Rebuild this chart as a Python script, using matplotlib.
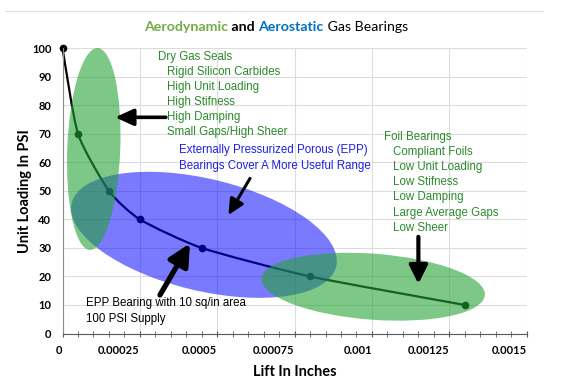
import matplotlib
matplotlib.use("Agg")
import matplotlib.pyplot as plt
from matplotlib.patches import Ellipse, PathPatch
from matplotlib.path import Path
from matplotlib.lines import Line2D
from matplotlib.transforms import ScaledTranslation

# data
lift = [0, 0.00005, 0.00015, 0.00025, 0.00045, 0.0008, 0.0013]
load = [100, 70, 50, 40, 30, 20, 10]
xtick_vals = [0, 0.00025, 0.0005, 0.00075, 0.001, 0.00125, 0.0015]
xtick_labels = ['0', '0.00025', '0.0005', '0.00075', '0.001', '0.00125', '0.0015']
ytick_vals = [0, 10, 20, 30, 40, 50, 60, 70, 80, 90, 100]

seal_lines = ['Dry Gas Seals', 'Rigid Silicon Carbides', 'High Unit Loading',
              'High Stifness', 'High Damping', 'Small Gaps/High Sheer']
foil_lines = ['Foil Bearings', 'Compliant Foils', 'Low Unit Loading', 'Low Stifness',
              'Low Damping', 'Large Average Gaps', 'Low Sheer']
epp_lines = ['Externally Pressurized Porous (EPP)', 'Bearings Cover A More Useful Range']
supply_lines = ['EPP Bearing with 10 sq/in area', '100 PSI Supply']

GREEN_TXT = '#2b8a2b'
BLUE_TXT = '#1f1fe6'
ELL_GREEN = '#26a337'
ELL_BLUE = '#0000ff'

fig = plt.figure(figsize=(5.62, 3.9), dpi=100)
ax = fig.add_axes([62.5 / 562, 1 - 333.5 / 390, 464.2 / 562, 285.2 / 390])
ax.set_xlim(0, 0.0015)
ax.set_ylim(0, 100)

# grid
ax.set_xticks(xtick_vals)
ax.set_xticklabels(xtick_labels)
ax.set_xticks([i * 0.00005 for i in range(31)], minor=True)
ax.set_yticks(ytick_vals)
ax.grid(True, which='major', color='#dcdcdc', lw=0.8)
ax.set_axisbelow(True)
for s in ['top', 'right']:
    ax.spines[s].set_visible(False)
ax.spines['left'].set_color('#8c8c8c')
ax.spines['bottom'].set_color('#595959')
ax.tick_params(axis='y', length=0, pad=8)
ax.tick_params(axis='x', which='both', direction='inout', length=5, color='#595959', pad=6)
for lab in ax.get_xticklabels() + ax.get_yticklabels():
    lab.set_fontfamily('Lato')
    lab.set_fontweight('bold')
    lab.set_fontsize(8)
for lab in ax.get_xticklabels():
    lab.set_ha('right')

ax.set_xlabel('Lift In Inches', fontfamily='Lato', fontweight='bold', fontsize=10.5, labelpad=6)
ax.set_ylabel('Unit Loading In PSI', fontfamily='Lato', fontweight='bold', fontsize=10.5, labelpad=0)


# lightly smoothed line through the points
def smooth_path(xs, ys, k=1 / 10):
    pts = list(zip(xs, ys))
    n = len(pts)
    verts = [pts[0]]
    codes = [Path.MOVETO]
    for i in range(n - 1):
        p0 = pts[i - 1] if i > 0 else pts[i]
        p1 = pts[i]
        p2 = pts[i + 1]
        p3 = pts[i + 2] if i + 2 < n else pts[i + 1]
        c1 = (p1[0] + (p2[0] - p0[0]) * k, p1[1] + (p2[1] - p0[1]) * k)
        c2 = (p2[0] - (p3[0] - p1[0]) * k, p2[1] - (p3[1] - p1[1]) * k)
        verts += [c1, c2, p2]
        codes += [Path.CURVE4] * 3
    return Path(verts, codes)


ax.add_patch(PathPatch(smooth_path(lift, load), fill=False, lw=1.6, color='black',
                       zorder=2, clip_on=False))
ax.plot(lift, load, 'o', color='black', ms=4.5, zorder=2, clip_on=False)


# ellipses sized in pixels, placed in data coords
def ellipse(x, y, w, h, ang, color, alpha):
    tr = fig.dpi_scale_trans + ScaledTranslation(x, y, ax.transData)
    e = Ellipse((0, 0), w / 100, h / 100, angle=ang, transform=tr,
                facecolor=color, edgecolor='none', alpha=alpha, zorder=3)
    ax.add_patch(e)


ellipse(0.000457, 34.6, 272, 112, -13.5, ELL_BLUE, 0.52)
ellipse(0.000101, 64.7, 53, 202, -2.2, ELL_GREEN, 0.6)
ellipse(0.001004, 16.4, 224, 66, -4.3, ELL_GREEN, 0.6)


# arrows
def arrow(tip, tail, lw, hl, hw):
    ax.annotate('', xy=tip, xytext=tail,
                arrowprops=dict(arrowstyle=f'-|>,head_length={hl},head_width={hw}',
                                lw=lw, color='black', shrinkA=0, shrinkB=0),
                zorder=5)


arrow((0.000170, 75.8), (0.000334, 75.8), 2.6, 1.1, 0.5)
arrow((0.000536, 41.5), (0.000606, 54.4), 2.2, 0.95, 0.45)
arrow((0.000412, 31.6), (0.000315, 13.5), 3.8, 1.3, 0.65)
arrow((0.00115, 17.4), (0.00115, 33.9), 3.0, 1.1, 0.55)

# text blocks
tkw = dict(fontfamily='Liberation Sans', fontsize=8.3, va='center', zorder=6)
ax.text(0.000310, 97.1, seal_lines[0], color=GREEN_TXT, **tkw)
for i, s in enumerate(seal_lines[1:]):
    ax.text(0.000337, 91.8 - 5.3 * i, s, color=GREEN_TXT, **tkw)
ax.text(0.001039, 69.0, foil_lines[0], color=GREEN_TXT, **tkw)
for i, s in enumerate(foil_lines[1:]):
    ax.text(0.001067, 63.5 - 5.27 * i, s, color=GREEN_TXT, **tkw)
for i, s in enumerate(epp_lines):
    ax.text(0.000377, 64.3 - 5.6 * i, s, color=BLUE_TXT, **tkw)
for i, s in enumerate(supply_lines):
    ax.text(0.0000759, 10.6 - 5.5 * i, s, color='black', **tkw)

# title with coloured words
title_parts = [('Aerodynamic', '#70ad47', 'bold'), (' and ', 'black', 'bold'),
               ('Aerostatic', '#0070c0', 'bold'), (' Gas Bearings', 'black', 'normal')]
renderer = fig.canvas.get_renderer()
texts = []
for s, c, w in title_parts:
    texts.append(fig.text(0, 1 - 26.7 / 390, s, color=c, fontweight=w,
                          fontfamily='Lato', fontsize=10.2, va='center'))
widths = [t.get_window_extent(renderer).width for t in texts]
x0 = 276 - sum(widths) / 2
for t, w in zip(texts, widths):
    t.set_x(x0 / 562)
    x0 += w

fig.add_artist(Line2D([5 / 562, 543 / 562], [1 - 11 / 390] * 2, color='#e2e2e2', lw=0.8))

fig.savefig('out.png', dpi=100)
